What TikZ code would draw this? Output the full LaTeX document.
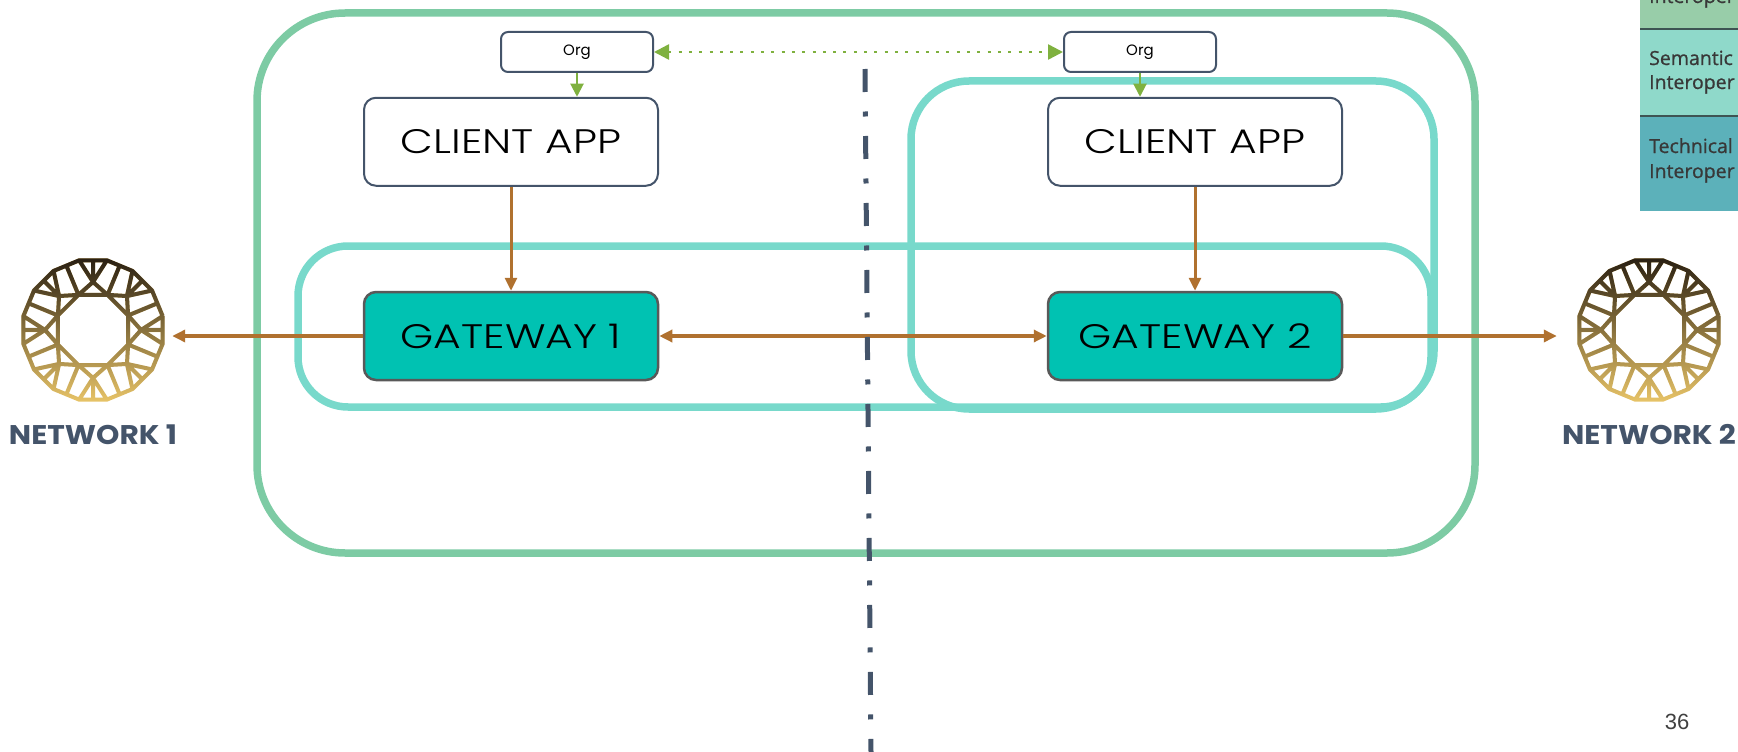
\documentclass[tikz,border=0pt]{standalone}
\usepackage{fontspec}
\newfontfamily\mont{Poppins}
\newfontfamily\montwide[FakeStretch=1.25]{Poppins Light}
\newfontfamily\montbold[FakeStretch=1.1]{Poppins}
\newfontfamily\arialfont{Liberation Sans}
\newfontfamily\bandfont[FakeBold=0.8]{Open Sans}
\usetikzlibrary{positioning, arrows.meta, fadings}

\definecolor{slate}{HTML}{44546A}
\definecolor{mint}{HTML}{7DCBA4}
\definecolor{aqua}{HTML}{78D9CB}
\definecolor{gwfill}{HTML}{00C2B2}
\definecolor{gwline}{HTML}{595959}
\definecolor{copper}{HTML}{B0712F}
\definecolor{leaf}{HTML}{7FB13F}
\definecolor{gemdark}{HTML}{2A2013}
\definecolor{gemgold}{HTML}{E8C468}
\definecolor{bandA}{HTML}{98CDA9}
\definecolor{bandB}{HTML}{8FD9CA}
\definecolor{bandC}{HTML}{5CB1BA}
\definecolor{bandrule}{HTML}{3E5453}

\tikzfading[name=gemfade, top color=transparent!0, bottom color=transparent!100]

% facets of the gem, drawn twice (gold, then dark fading out)
\newcommand\gemfacets{
  plot[samples at={0,...,16}] ({11.25+22.5*\x}:71pt)
  plot[samples at={0,...,8}] ({22.5+45*\x}:38pt)
  \foreach \a in {0,45,...,315}{
    ({\a-22.5}:38pt) -- (\a:48pt) -- ({\a+22.5}:38pt)
    ({\a-11.25}:71pt) -- (\a:48pt) -- ({\a+11.25}:71pt)
    (\a:48pt) -- (\a:69.6pt)
    ({\a+22.5}:38pt) -- ({\a+22.5}:69.6pt)
  }
}

\tikzset{
>={Triangle[length=13pt,width=12pt]}, % solid arrow heads
zone/.style={draw=aqua, line width=7.5pt}, % rounded frames
org/.style={draw=slate, line width=2pt, rounded corners=7pt, fill=white, minimum width=152pt, minimum height=40pt, font=\mont\fontsize{15}{18}\selectfont},
app/.style={draw=slate, line width=2pt, rounded corners=12pt, fill=white, minimum width=294pt, minimum height=88pt, font=\montwide\fontsize{34}{40}\selectfont},
gateway/.style={app, draw=gwline, fill=gwfill, line width=2.5pt},
network/.style={circle, inner sep=0pt, minimum size=142pt},
netlabel/.style={inner sep=0pt, text=slate, font=\montbold\bfseries\fontsize{27}{30}\selectfont},
link/.style={draw=copper, line width=3.5pt},
feed/.style={draw=copper, line width=3pt, ->},
orglink/.style={draw=leaf, line width=2.5pt, dash pattern=on 3pt off 7.3pt, {<[length=15pt,width=15pt]}-{>[length=15pt,width=15pt]}},
orgfeed/.style={draw=leaf, line width=2pt, -{>[length=13pt,width=13pt]}},
divider/.style={draw=slate, line width=5pt, dash pattern=on 23pt off 19.5pt on 5pt off 19.5pt},
gembase/.style={draw=gemgold, line width=4pt, line join=round},
gemshade/.style={draw=gemdark, line width=4pt, line join=round, path fading=gemfade},
gem/.pic={\draw[gembase] \gemfacets; \draw[gemshade] \gemfacets;},
bandtext/.style={anchor=base west, inner sep=0pt, text=black!78, font=\bandfont\fontsize{19.5}{22}\selectfont},
}

\begin{document}
\begin{tikzpicture}[x=1pt, y=-1pt]
\useasboundingbox (0,0) rectangle (1738,752);

\draw[zone, draw=mint, rounded corners=88pt] (257,13) rectangle (1475,553);
\draw[zone, rounded corners=50pt] (298,246) rectangle (1431,407);
\draw[zone, rounded corners=58pt] (911,81) rectangle (1434,409);

\node[gateway] (gw1) at (511,336) {GATEWAY 1};
\node[gateway] (gw2) at (1195,336) {GATEWAY 2};
\node[app, above=104pt of gw1] (app1) {CLIENT APP};
\node[app, above=104pt of gw2] (app2) {CLIENT APP};
\node[org] (org1) at (577,52) {Org};
\node[org] (org2) at (1140,52) {Org};

\node[network] (net1) at (93,330) {};
\node[network] (net2) at (1649,330) {};
\pic at (net1) {gem};
\pic at (net2) {gem};
\node[netlabel, below=23pt of net1] (lbl1) {NETWORK 1};
\node[netlabel, below=23pt of net2] (lbl2) {NETWORK 2};

\draw[link, <->] (gw1) -- (gw2);
\draw[link, ->, shorten >=8pt] (gw1) -- (gw1 -| net1.east);
\draw[link, ->, shorten >=21pt] (gw2) -- (gw2 -| net2.west);
\draw[feed] (app1) -- (gw1);
\draw[feed] (app2) -- (gw2);
\draw[orglink] (org1) -- (org2);
\draw[orgfeed] (org1.south) -- (org1.south |- app1.north);
\draw[orgfeed] (org2.south) -- (org2.south |- app2.north);

\draw[divider] (865,69) -- (871,752);

\node[font=\arialfont\fontsize{22}{26}\selectfont, text=black!75, inner sep=0pt] (page) at (1677,722) {36};

\begin{scope}
\clip (1640,0) rectangle (1738,211);
\fill[bandA] (1640,-5) rectangle (1745,29);
\fill[bandB] (1640,29) rectangle (1745,116);
\fill[bandC] (1640,116) rectangle (1745,211);
\draw[bandrule, line width=2.5pt] (1640,29) -- (1745,29) (1640,116) -- (1745,116);
\node[bandtext] at (1649,3) {Interoper};
\node[bandtext] at (1649,65) {Semantic};
\node[bandtext] at (1649,89) {Interoper};
\node[bandtext] at (1649,153) {Technical};
\node[bandtext] at (1649,178) {Interoper};
\end{scope}
\end{tikzpicture}
\end{document}
